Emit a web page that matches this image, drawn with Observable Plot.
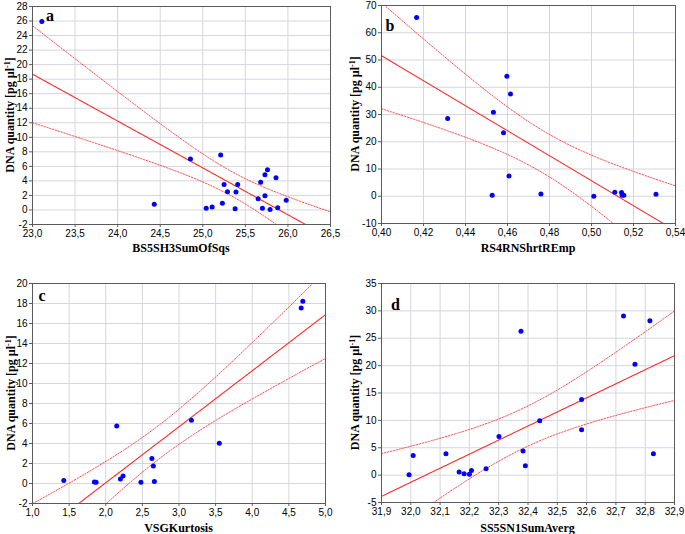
<!DOCTYPE html>
<html>
<head>
<meta charset="utf-8">
<script src="https://cdn.jsdelivr.net/npm/d3@7"></script>
<script src="https://cdn.jsdelivr.net/npm/@observablehq/plot@0.6"></script>
<style>
  html, body { margin: 0; padding: 0; background: #fff; }
  #wrap { position: relative; width: 685px; height: 534px; overflow: hidden; background: #fff; }
  .panel { position: absolute; }
</style>
</head>
<body>
<div id="wrap"></div>
<script>
// ---------- Data ----------
const aX = [23.11, 24.43, 24.855, 25.21, 25.04, 25.11, 25.23, 25.25, 25.41, 25.29, 25.39, 25.38, 25.65, 25.68, 25.70, 25.73, 25.73, 25.76, 25.79, 25.86, 25.88, 25.98];
const aY = [25.94, 0.8, 7.01, 7.56, 0.22, 0.41, 0.91, 3.52, 3.52, 2.52, 2.47, 0.18, 1.55, 3.8, 0.22, 4.85, 1.97, 5.54, 0.08, 4.44, 0.32, 1.32];
const bX = [0.4167, 0.4315, 0.4533, 0.4527, 0.4581, 0.4597, 0.4614, 0.4607, 0.4759, 0.5011, 0.5111, 0.5143, 0.5146, 0.5154, 0.5307];
const bY = [65.6, 28.5, 30.8, 0.4, 23.3, 44.0, 37.5, 7.4, 0.85, 0.0, 1.46, 1.35, 0.37, 0.37, 0.73];
const cX = [1.427, 1.845, 1.868, 2.15, 2.20, 2.236, 2.48, 2.63, 2.65, 2.664, 3.17, 3.55, 4.668, 4.69];
const cY = [0.3, 0.16, 0.13, 5.76, 0.46, 0.76, 0.13, 2.5, 1.76, 0.2, 6.33, 4.03, 17.56, 18.23];
const dX = [31.994, 32.008, 32.12, 32.165, 32.182, 32.2, 32.207, 32.257, 32.301, 32.376, 32.383, 32.391, 32.44, 32.583, 32.583, 32.726, 32.765, 32.816, 32.828];
const dY = [0.05, 3.59, 3.9, 0.55, 0.24, 0.18, 0.84, 1.15, 7.07, 26.3, 4.4, 1.7, 9.94, 13.8, 8.3, 29.05, 20.26, 28.2, 3.9];

// Tick values
const aXTicks = [23.0, 23.5, 24.0, 24.5, 25.0, 25.5, 26.0, 26.5];
const aYTicks = [-2, 0, 2, 4, 6, 8, 10, 12, 14, 16, 18, 20, 22, 24, 26, 28];
const bXTicks = [0.40, 0.42, 0.44, 0.46, 0.48, 0.50, 0.52, 0.54];
const bYTicks = [-10, 0, 10, 20, 30, 40, 50, 60, 70];
const cXTicks = [1.0, 1.5, 2.0, 2.5, 3.0, 3.5, 4.0, 4.5, 5.0];
const cYTicks = [-2, 0, 2, 4, 6, 8, 10, 12, 14, 16, 18, 20];
const dXTicks = [31.9, 32.0, 32.1, 32.2, 32.3, 32.4, 32.5, 32.6, 32.7, 32.8, 32.9];
const dYTicks = [-5, 0, 5, 10, 15, 20, 25, 30, 35];

// Labels
const panelLetters = ["a", "b", "c", "d"];
const xTitles = ["BS5SH3SumOfSqs", "RS4RNShrtREmp", "VSGKurtosis", "SS5SN1SumAverg"];
const yTitle = "DNA quantity [pg µl";

// Student t critical values (two-sided 95%) by degrees of freedom
const tCrit = {12: 2.179, 13: 2.160, 17: 2.110, 20: 2.086};

const comma = (digits) => (v) => v.toFixed(digits).replace(".", ",");

function fitLine(xs, ys) {
  const n = xs.length, mx = d3.mean(xs), my = d3.mean(ys);
  let sxx = 0, sxy = 0;
  for (let i = 0; i < n; i++) { sxx += (xs[i] - mx) ** 2; sxy += (xs[i] - mx) * (ys[i] - my); }
  const b = sxy / sxx, a = my - b * mx;
  let sse = 0;
  for (let i = 0; i < n; i++) sse += (ys[i] - a - b * xs[i]) ** 2;
  const s = Math.sqrt(sse / (n - 2));
  const t = tCrit[n - 2];
  return (x) => {
    const yh = a + b * x;
    const h = t * s * Math.sqrt(1 / n + (x - mx) ** 2 / sxx);
    return {x, fit: yh, lo: yh - h, hi: yh + h};
  };
}

const wrap = document.getElementById("wrap");

function panel(cfg) {
  const {xs, ys, xTicks, yTicks, xFmt, left, top, width, height, m, letter, letterOff, xTitle, xTitleY, yTitleX} = cfg;
  const xDomain = [xTicks[0], xTicks[xTicks.length - 1]];
  const yDomain = [yTicks[0], yTicks[yTicks.length - 1]];
  const f = fitLine(xs, ys);
  const curve = d3.range(0, 201).map(i => f(xDomain[0] + (xDomain[1] - xDomain[0]) * i / 200));
  const pts = xs.map((x, i) => ({x, y: ys[i]}));
  const gridColor = "#d4d6dc";

  const chart = Plot.plot({
    width, height,
    marginLeft: m[0], marginRight: m[1], marginTop: m[2], marginBottom: m[3],
    style: {fontFamily: "'Liberation Sans', Arial, sans-serif", fontSize: "10px", color: "#000", background: "transparent", overflow: "visible"},
    x: {domain: xDomain, label: null},
    y: {domain: yDomain, label: null},
    marks: [
      Plot.ruleX(xTicks, {stroke: gridColor}),
      Plot.ruleY(yTicks, {stroke: gridColor}),
      Plot.line(curve, {x: "x", y: "lo", stroke: "#ff4a4a", strokeWidth: 1, strokeDasharray: "1.5,1.5", clip: true}),
      Plot.line(curve, {x: "x", y: "hi", stroke: "#ff4a4a", strokeWidth: 1, strokeDasharray: "1.5,1.5", clip: true}),
      Plot.line(curve, {x: "x", y: "fit", stroke: "#ff2a2a", strokeWidth: 1.1, clip: true}),
      Plot.dot(pts, {x: "x", y: "y", r: 2.5, fill: "#0000ff", stroke: null}),
      Plot.frame({stroke: "#5a5a5a", strokeWidth: 1}),
      Plot.axisX(xTicks, {tickSize: 3, tickFormat: xFmt, tickPadding: 2.5, stroke: "#5a5a5a"}),
      Plot.axisY(yTicks, {tickSize: 3, tickFormat: d => String(d), tickPadding: 2, stroke: "#5a5a5a"})
    ]
  });

  const svg = d3.select(chart);
  const fx0 = m[0], fx1 = width - m[1], fy0 = m[2], fy1 = height - m[3];
  svg.append("text")
    .attr("x", fx0 + letterOff[0]).attr("y", fy0 + letterOff[1])
    .attr("font-family", "'Liberation Serif', 'Times New Roman', serif")
    .attr("font-weight", "bold").attr("font-size", 16).attr("fill", "#000")
    .text(letter);
  svg.append("text")
    .attr("x", (fx0 + fx1) / 2).attr("y", xTitleY)
    .attr("text-anchor", "middle")
    .attr("font-family", "'Liberation Serif', 'Times New Roman', serif")
    .attr("font-weight", "bold").attr("font-size", 12).attr("fill", "#000")
    .text(xTitle);
  const yt = svg.append("text")
    .attr("transform", `translate(${yTitleX},${(fy0 + fy1) / 2}) rotate(-90)`)
    .attr("text-anchor", "middle")
    .attr("font-family", "'Liberation Serif', 'Times New Roman', serif")
    .attr("font-weight", "bold").attr("font-size", 12).attr("fill", "#000");
  yt.append("tspan").text(yTitle);
  yt.append("tspan").attr("dy", -4.5).attr("font-size", 8).text("-1");
  yt.append("tspan").attr("dy", 4.5).text("]");

  const div = document.createElement("div");
  div.className = "panel";
  div.style.left = left + "px";
  div.style.top = top + "px";
  div.appendChild(chart);
  wrap.appendChild(div);
}

panel({xs: aX, ys: aY, xTicks: aXTicks, yTicks: aYTicks, xFmt: comma(1),
  left: 0, top: 0, width: 340, height: 265, m: [32, 10, 6, 41],
  letter: panelLetters[0], letterOff: [18, 15], xTitle: xTitles[0], xTitleY: 252, yTitleX: 14});
panel({xs: bX, ys: bY, xTicks: bXTicks, yTicks: bYTicks, xFmt: comma(2),
  left: 340, top: 0, width: 345, height: 265, m: [41, 10, 5, 42],
  letter: panelLetters[1], letterOff: [9, 25.5], xTitle: xTitles[1], xTitleY: 252, yTitleX: 19});
panel({xs: cX, ys: cY, xTicks: cXTicks, yTicks: cYTicks, xFmt: comma(1),
  left: 0, top: 265, width: 340, height: 269, m: [32, 15, 18, 31],
  letter: panelLetters[2], letterOff: [10, 17.5], xTitle: xTitles[2], xTitleY: 266.5, yTitleX: 15});
panel({xs: dX, ys: dY, xTicks: dXTicks, yTicks: dYTicks, xFmt: comma(1),
  left: 340, top: 265, width: 345, height: 269, m: [41, 11, 18, 32],
  letter: panelLetters[3], letterOff: [14.5, 27], xTitle: xTitles[3], xTitleY: 266.5, yTitleX: 19});
</script>
</body>
</html>
